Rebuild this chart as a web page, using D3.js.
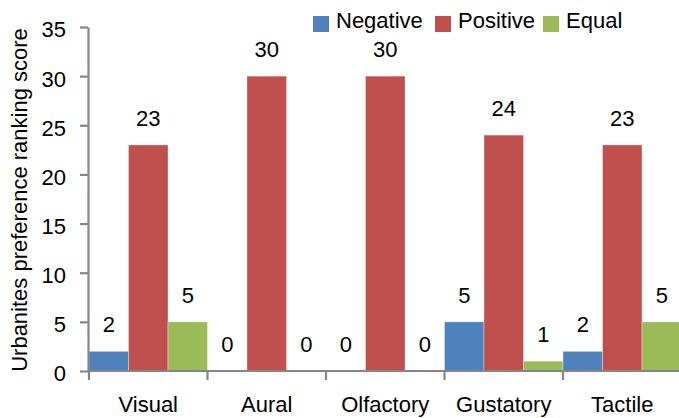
<!DOCTYPE html>
<html>
<head>
<meta charset="utf-8">
<script src="https://cdn.jsdelivr.net/npm/d3@7"></script>
<style>
  html, body { margin: 0; padding: 0; background: #fff; }
  svg { display: block; font-family: "Liberation Sans", Arial, Helvetica, sans-serif; }
</style>
</head>
<body>
<svg id="chart" width="679" height="418"></svg>
<script>
// Senses compared, and the ranking scores for each outcome
const categories = ["Visual", "Aural", "Olfactory", "Gustatory", "Tactile"];
const seriesNames = ["Negative", "Positive", "Equal"];
const negative = [2, 0, 0, 5, 2];
const positive = [23, 30, 30, 24, 23];
const equal = [5, 0, 0, 1, 5];
const yTicks = [0, 5, 10, 15, 20, 25, 30, 35];
const yTitle = "Urbanites preference ranking score";

const colors = { Negative: "#4F81BD", Positive: "#C0504D", Equal: "#9BBB59" };
const seriesValues = { Negative: negative, Positive: positive, Equal: equal };

const svg = d3.select("#chart");
const fontSize = 22;
const axisColor = "#868686";

const x0 = d3.scaleBand().domain(categories).range([89, 681.5]).padding(0);
const x1 = d3.scaleBand().domain(seriesNames).range([0, x0.bandwidth()]).padding(0);
const y = d3.scaleLinear().domain([0, 35]).range([371, 27]);

// Bars
const groups = svg.append("g").selectAll("g")
  .data(categories)
  .join("g")
  .attr("transform", d => `translate(${x0(d)},0)`);

groups.selectAll("rect")
  .data((c, i) => seriesNames.map(s => ({ s, v: seriesValues[s][i] })))
  .join("rect")
  .attr("x", d => x1(d.s))
  .attr("width", x1.bandwidth())
  .attr("y", d => y(d.v))
  .attr("height", d => y(0) - y(d.v))
  .attr("fill", d => colors[d.s])
  .attr("stroke", "rgba(255,255,255,0.35)")
  .attr("stroke-width", 1);

// Value labels above bars
groups.selectAll("text.val")
  .data((c, i) => seriesNames.map(s => ({ s, v: seriesValues[s][i] })))
  .join("text")
  .attr("class", "val")
  .attr("x", d => x1(d.s) + x1.bandwidth() / 2)
  .attr("y", d => y(d.v) - 19)
  .attr("text-anchor", "middle")
  .attr("font-size", fontSize)
  .attr("fill", "#000")
  .text(d => d.v);

// Y axis
const yAxis = svg.append("g")
  .attr("transform", "translate(88,0)")
  .call(d3.axisLeft(y).tickValues(yTicks).tickSize(8).tickSizeOuter(0).tickPadding(14));
yAxis.select(".domain").attr("stroke", axisColor).attr("stroke-width", 2.2);
yAxis.selectAll(".tick line").attr("stroke", axisColor).attr("stroke-width", 2.2);
yAxis.selectAll(".tick text")
  .attr("font-size", fontSize)
  .attr("font-family", null)
  .attr("fill", "#000")
  .attr("dy", "0.45em");

// X axis: baseline with ticks between categories
const xg = svg.append("g").attr("transform", "translate(0,371)");
xg.append("line")
  .attr("x1", 88).attr("x2", 681.5)
  .attr("stroke", axisColor).attr("stroke-width", 2.2);
const bounds = categories.map(c => x0(c)).concat([x0(categories[categories.length - 1]) + x0.bandwidth()]);
xg.selectAll("line.tick")
  .data(bounds)
  .join("line")
  .attr("class", "tick")
  .attr("x1", d => d).attr("x2", d => d)
  .attr("y1", 0).attr("y2", 9)
  .attr("stroke", axisColor).attr("stroke-width", 2.2);
xg.selectAll("text")
  .data(categories)
  .join("text")
  .attr("x", d => x0(d) + x0.bandwidth() / 2)
  .attr("y", 41)
  .attr("text-anchor", "middle")
  .attr("font-size", fontSize)
  .attr("fill", "#000")
  .text(d => d);

// Y axis title
svg.append("text")
  .attr("transform", "translate(27,200) rotate(-90)")
  .attr("text-anchor", "middle")
  .attr("font-size", fontSize)
  .attr("fill", "#000")
  .text(yTitle);

// Legend
const legendX = [313, 435, 543];
const legend = svg.append("g");
seriesNames.forEach((s, i) => {
  legend.append("rect")
    .attr("x", legendX[i]).attr("y", 16)
    .attr("width", 16).attr("height", 16)
    .attr("fill", colors[s]);
  legend.append("text")
    .attr("x", legendX[i] + 23).attr("y", 28)
    .attr("font-size", fontSize)
    .attr("fill", "#000")
    .text(s);
});
</script>
</body>
</html>
